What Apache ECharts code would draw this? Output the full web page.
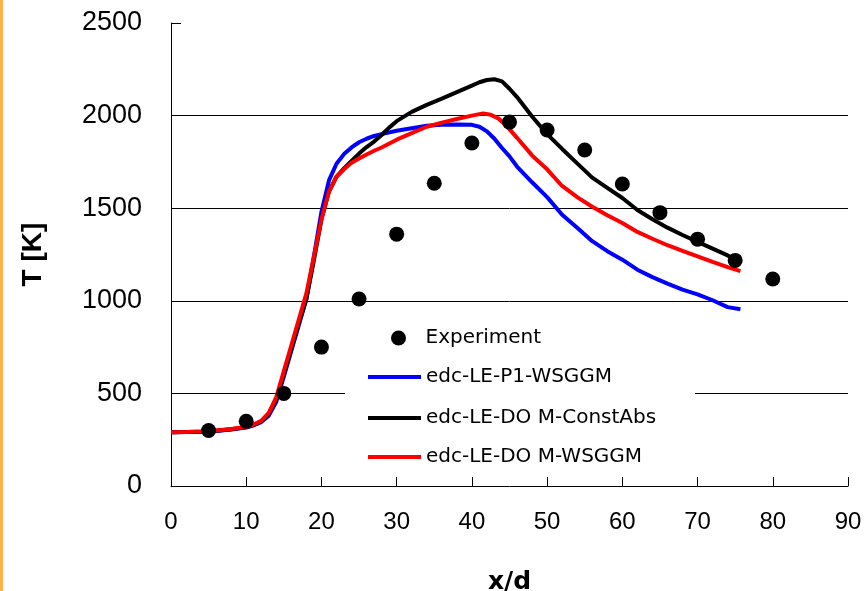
<!DOCTYPE html>
<html><head><meta charset="utf-8">
<script src="https://cdn.jsdelivr.net/npm/echarts@6/dist/echarts.min.js"></script>
<style>html,body{margin:0;padding:0;background:#fff}#c{width:866px;height:591px}</style>
</head><body><div id="c"></div><script>
// ---- data ----
const xTickValues = [0, 10, 20, 30, 40, 50, 60, 70, 80, 90];
const yTickValues = [0, 500, 1000, 1500, 2000, 2500];

const expX = [5, 10, 15, 20, 25, 30, 35, 40, 45, 50, 55, 60, 65, 70, 75, 80];
const expT = [300, 350, 500, 750, 1010, 1360, 1635, 1852, 1965, 1922, 1814, 1631, 1476, 1333, 1218, 1118];

const p1X = [0, 2, 4, 6, 8, 10, 11, 12, 13, 14, 15, 16, 17, 18, 19, 20, 21, 22, 23, 24, 25, 26, 27, 28, 30, 32, 34, 36, 38, 40, 41, 42, 43, 44, 45, 46, 48, 50, 52, 54, 56, 58, 60, 62, 64, 66, 68, 70, 72, 74, 75.7];
const p1T = [290, 291, 293, 297, 305, 316, 328, 345, 380, 455, 590, 730, 870, 1010, 1240, 1480, 1650, 1740, 1792, 1828, 1856, 1875, 1890, 1900, 1918, 1932, 1945, 1950, 1952, 1950, 1940, 1915, 1875, 1825, 1780, 1725, 1640, 1560, 1465, 1395, 1322, 1268, 1222, 1168, 1128, 1093, 1060, 1035, 1003, 966, 954];

const constX = [0, 2, 4, 6, 8, 10, 11, 12, 13, 14, 15, 16, 17, 18, 19, 20, 21, 22, 23, 24, 25, 26, 27, 28, 29, 30, 32, 34, 36, 38, 40, 41, 42, 43, 44, 45, 46, 48, 50, 52, 54, 56, 58, 60, 62, 64, 66, 68, 70, 72, 74, 75.7];
const constT = [290, 291, 293, 298, 306, 318, 330, 350, 390, 470, 605, 740, 880, 1010, 1220, 1440, 1590, 1670, 1715, 1755, 1795, 1830, 1860, 1895, 1935, 1970, 2020, 2058, 2092, 2127, 2162, 2180, 2192, 2196, 2185, 2145, 2100, 1995, 1900, 1820, 1742, 1665, 1610, 1555, 1490, 1440, 1395, 1355, 1318, 1282, 1245, 1208];

const domX = [0, 2, 4, 6, 8, 10, 11, 12, 13, 14, 15, 16, 17, 18, 19, 20, 21, 22, 23, 24, 25, 26, 27, 28, 30, 32, 34, 36, 38, 40, 41.5, 42.5, 43.5, 44.5, 46, 48, 50, 52, 54, 56, 58, 60, 62, 64, 66, 68, 70, 72, 74, 75.7];
const domT = [290, 292, 295, 300, 308, 320, 332, 352, 395, 480, 620, 760, 900, 1040, 1240, 1440, 1590, 1670, 1710, 1745, 1768, 1790, 1810, 1828, 1870, 1905, 1940, 1962, 1982, 2000, 2012, 2005, 1985, 1950, 1880, 1785, 1710, 1620, 1560, 1508, 1462, 1420, 1372, 1335, 1300, 1270, 1240, 1210, 1182, 1160];

const seriesNames = ['Experiment', 'edc-LE-P1-WSGGM', 'edc-LE-DO M-ConstAbs', 'edc-LE-DO M-WSGGM'];
// ---- end data ----

const zip = (xs, ys) => xs.map((x, i) => [x, ys[i]]);
const legendText = { fontFamily: 'DejaVu Sans', fontSize: 20, color: '#000', lineHeight: 20 };

const chart = echarts.init(document.getElementById('c'), null, { renderer: 'canvas' });
chart.setOption({
  animation: false,
  backgroundColor: '#fff',
  grid: { left: 171, right: 18, top: 23, bottom: 105, containLabel: false, outerBoundsMode: 'none' },
  xAxis: {
    type: 'value', min: xTickValues[0], max: xTickValues[xTickValues.length - 1], interval: 10,
    name: 'x/d', nameLocation: 'middle', nameGap: 84,
    nameTextStyle: { fontFamily: 'DejaVu Sans', fontWeight: 'bold', fontSize: 25, color: '#000' },
    axisLine: { show: true, lineStyle: { color: '#000', width: 1 } },
    axisTick: { show: true, inside: true, length: 9, lineStyle: { color: '#000' } },
    axisLabel: { margin: 24, fontFamily: 'Liberation Sans', fontSize: 24, color: '#000', formatter: v => String(v) },
    splitLine: { show: false }
  },
  yAxis: {
    type: 'value', min: yTickValues[0], max: yTickValues[yTickValues.length - 1], interval: 500,
    name: 'T [K]', nameLocation: 'middle', nameGap: 124, nameRotate: 90,
    nameTextStyle: { fontFamily: 'Liberation Sans', fontWeight: 'bold', fontSize: 28, color: '#000' },
    axisLine: { show: true, lineStyle: { color: '#000', width: 1 } },
    axisTick: { show: true, inside: true, length: 10, lineStyle: { color: '#000' } },
    axisLabel: { margin: 29, fontFamily: 'Liberation Sans', fontSize: 27, color: '#000', formatter: v => String(v) },
    splitLine: { show: true, showMinLine: false, showMaxLine: false, lineStyle: { color: '#000', width: 1 } }
  },
  graphic: [
    { type: 'rect', left: 0, top: 0, shape: { width: 3, height: 591 }, style: { fill: '#FFB347' }, z: 10 },
    { type: 'rect', shape: { x: 345, y: 322, width: 350, height: 150 }, style: { fill: '#fff' }, z: 1 }
  ],
  legend: [
    { data: [seriesNames[0]], left: 391, top: 328, orient: 'vertical', padding: 0, itemWidth: 44, itemHeight: 15, icon: 'circle', textStyle: legendText },
    { data: [seriesNames[1]], left: 368, top: 367, orient: 'vertical', padding: 0, itemWidth: 53, itemHeight: 4, icon: 'rect', textStyle: legendText },
    { data: [seriesNames[2]], left: 368, top: 408, orient: 'vertical', padding: 0, itemWidth: 53, itemHeight: 4, icon: 'rect', textStyle: legendText },
    { data: [seriesNames[3]], left: 368, top: 447, orient: 'vertical', padding: 0, itemWidth: 53, itemHeight: 4, icon: 'rect', textStyle: legendText }
  ],
  series: [
    { name: seriesNames[1], type: 'line', data: zip(p1X, p1T), showSymbol: false, symbol: 'none', lineStyle: { color: '#0000FF', width: 4 }, itemStyle: { color: '#0000FF' }, z: 2 },
    { name: seriesNames[2], type: 'line', data: zip(constX, constT), showSymbol: false, symbol: 'none', lineStyle: { color: '#000', width: 4 }, itemStyle: { color: '#000' }, z: 3 },
    { name: seriesNames[3], type: 'line', data: zip(domX, domT), showSymbol: false, symbol: 'none', lineStyle: { color: '#FF0000', width: 4 }, itemStyle: { color: '#FF0000' }, z: 4 },
    { name: seriesNames[0], type: 'scatter', data: zip(expX, expT), symbol: 'circle', symbolSize: 15, itemStyle: { color: '#000', opacity: 1 }, z: 5 }
  ]
});
</script></body></html>
